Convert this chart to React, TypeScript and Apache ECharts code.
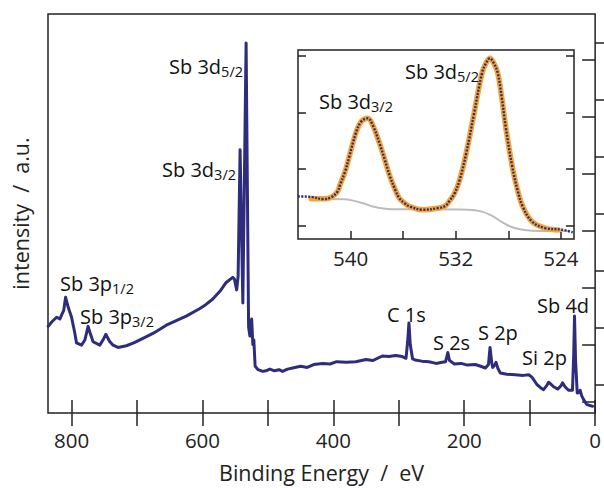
import React, { useEffect, useRef } from "react";
import * as echarts from "echarts";

// ---- survey spectrum (binding energy eV, intensity a.u.) ----
const surveyBE = [
  835.7, 830, 822.9, 817.8, 812, 809.1, 805, 800, 795, 792.4, 784.8, 779.7, 774.7, 771, 767.1,
  756.9, 752, 747.7, 742, 736.6, 729, 716.2, 705, 690.9, 675, 655.2, 640, 624.8, 604.5, 595,
  584.2, 573, 563.8, 553.8, 551.2, 547.7, 545.5, 542.5, 538.3, 533.3, 529.5, 527.5, 524.8, 523,
  521.5, 519.5, 515, 508, 503, 497, 490, 483, 477.6, 470, 462.3, 450, 440, 430, 416.6, 405, 395,
  380, 365.7, 350, 340, 325.2, 315, 305, 294.7, 289, 286.5, 284.5, 282.5, 279, 275, 265, 254, 243,
  233.8, 228.5, 225.1, 222.5, 215, 205, 195, 183, 175, 167.6, 163, 160.6, 158, 156.5, 153.5, 151.5,
  148.5, 144.8, 135, 122, 110, 101, 96, 89, 83, 78.8, 74, 71.2, 67, 63.5, 57, 52, 49.8, 46, 40.7,
  34.6, 32.8, 31.5, 30, 27.4, 24.5, 22.9, 20.5, 17.8, 12.8, 8, 4,
];
const surveyIntensity = [
  152, 160, 168, 165, 180, 203, 185, 168, 140, 123, 119, 128, 152, 138, 125,
  119, 128, 138, 126, 119, 115, 118, 123, 131, 140, 154, 162, 170, 183, 190,
  200, 214, 229, 238, 235, 216, 240, 462, 193, 649, 151, 135, 165, 120,
  128, 82, 76, 73, 74, 77, 74, 76, 73, 77, 79, 82, 80, 85, 87, 86, 90,
  89, 90, 94, 92, 100, 99, 101, 99, 96, 125, 158, 120, 95, 93, 91, 90, 87,
  89, 90, 106, 92, 86, 87, 84, 85, 82, 79, 85, 115, 88, 80, 84, 89,
  78, 70, 68, 67, 66, 67, 62, 50, 44, 41, 48, 54, 50, 46, 42, 48, 53, 46, 40,
  40, 100, 170, 95, 35, 36, 40, 30, 24, 15, 13, 12,
];

// ---- Sb 3d detail (inset) ----
const detailBE = [
  544, 543, 542.1, 541.5, 541, 540.8, 540.4, 540.1, 539.6, 539.2, 538.7, 538.3, 537.8, 537.4, 537,
  536.6, 536.3, 535.9, 535.5, 534.5, 533.3, 532.8, 532.5, 532.1, 531.7, 531.2, 530.6, 530, 529.7,
  529.4, 529.1, 528.8, 528.5, 528.2, 527.7, 527.3, 526.9, 526.2, 525.2, 523.9, 523.1,
];
const detailIntensity = [
  22.5, 22.3, 21.1, 22, 25, 28.7, 36, 43.6, 56, 62, 63.9, 60, 50.7, 42, 33,
  26, 21.7, 19, 17.2, 15.5, 16.4, 17.5, 19.9, 24, 31.3, 45.4, 66.6, 87.7, 93,
  95.6, 93, 87.7, 75, 59.5, 38.4, 26, 17.2, 9.3, 5.8, 4.9, 3.5,
];
const fitBE = [
  543, 542.1, 541.5, 541, 540.8, 540.4, 540.1, 539.6, 539.2, 538.7, 538.3, 537.8, 537.4, 537,
  536.6, 536.3, 535.9, 535.5, 534.5, 533.3, 532.8, 532.5, 532.1, 531.7, 531.2, 530.6, 530, 529.7,
  529.4, 529.1, 528.8, 528.5, 528.2, 527.7, 527.3, 526.9, 526.2, 525.2, 524.2,
];
const fitIntensity = [
  21.3, 21.3, 22, 25, 28.7, 36, 43.6, 56, 62, 63.9, 60, 50.7, 42, 33,
  26, 21.7, 19, 17.2, 15.5, 16.4, 17.5, 19.9, 24, 31.3, 45.4, 66.6, 87.7, 93,
  95.6, 93, 87.7, 75, 59.5, 38.4, 26, 17.2, 9.3, 5.8, 4.8,
];
const backgroundBE = [543, 540.5, 539.8, 539, 538.3, 537.5, 536.8, 531, 530, 529.3, 528.6, 527.8, 527, 526.2, 523.3];
const backgroundIntensity = [21.1, 21, 20.3, 18.8, 17.2, 16.1, 15.8, 15.5, 14.5, 12.5, 9.5, 6.5, 5, 4.4, 4.2];

// ---- axis ticks ----
const surveyTicks = [0, 100, 200, 300, 400, 500, 600, 700, 800];
const surveyLabels = [0, 200, 400, 600, 800];
const leftTicks = [50, 150, 250, 350, 450, 550, 650];
const rightTicks = [20, 120, 220, 320, 420, 520, 620];
const detailTicks = [540, 536, 532, 528, 524];
const detailLabels = [540, 532, 524];
const detailYTicks = [7, 37, 67, 97];

const NAVY = "#2e2d7d";
const ORANGE = "#f7a535";
const GRAY = "#bcbcbc";
const AX = "#222";
const FONT = "'Open Sans', 'Noto Sans', sans-serif";

const pair = (xs: number[], ys: number[]) => xs.map((x, i) => [x, ys[i]]);

const tick = (vals: number[], len: number) => ({
  show: true,
  inside: true,
  length: len,
  customValues: vals,
  lineStyle: { color: AX, width: 1.5 },
});

const rich = {
  m: { fontSize: 20, fontFamily: FONT, fill: "#111", lineHeight: 26 },
  s: { fontSize: 14.5, fontFamily: FONT, fill: "#111", lineHeight: 14, verticalAlign: "bottom" },
};

const label = (x: number, y: number, main: string, sub: string, align: string) => ({
  type: "text",
  x,
  y,
  z: 100,
  style: {
    text: sub ? `{m|${main}}{s|${sub}}` : `{m|${main}}`,
    rich,
    align,
    verticalAlign: "middle",
    fill: "#111",
    fontFamily: FONT,
  },
});

export default function App() {
  const ref = useRef<HTMLDivElement>(null);
  useEffect(() => {
    if (!ref.current) return;
    const chart = echarts.init(ref.current, undefined, { renderer: "svg" });
    chart.setOption({
      animation: false,
      backgroundColor: "#fff",
      grid: [
        { left: 48, top: 14, width: 549, height: 403, show: true, borderColor: AX, borderWidth: 1.5, backgroundColor: "transparent" },
        { left: 298, top: 50, width: 276, height: 189, show: true, borderColor: AX, borderWidth: 1.5, backgroundColor: "#fff" },
      ],
      xAxis: [
        {
          gridIndex: 0, type: "value", min: 0, max: 836, inverse: true, position: "bottom",
          axisLine: { show: false }, splitLine: { show: false },
          axisTick: tick(surveyTicks, 13),
          axisLabel: { customValues: surveyLabels, fontSize: 20.5, margin: 16, color: AX, fontFamily: FONT },
          name: "Binding Energy  /  eV", nameLocation: "middle", nameGap: 48,
          nameTextStyle: { fontSize: 21.5, color: AX, fontFamily: FONT },
        },
        {
          gridIndex: 0, type: "value", min: 0, max: 836, inverse: true, position: "top",
          axisLine: { show: false }, splitLine: { show: false },
          axisTick: tick(surveyTicks, 13), axisLabel: { show: false },
        },
        {
          gridIndex: 1, type: "value", min: 523, max: 544, inverse: true, position: "bottom",
          axisLine: { show: false }, splitLine: { show: false },
          axisTick: tick(detailTicks, 8),
          axisLabel: { customValues: detailLabels, fontSize: 20.5, margin: 8, color: AX, fontFamily: FONT },
        },
      ],
      yAxis: [
        {
          gridIndex: 0, type: "value", min: 0, max: 700, position: "left",
          axisLine: { show: false }, splitLine: { show: false },
          axisTick: tick(leftTicks, 13), axisLabel: { show: false },
          name: "intensity  /  a.u.", nameLocation: "middle", nameGap: 17,
          nameTextStyle: { fontSize: 21.5, color: AX, fontFamily: FONT },
        },
        {
          gridIndex: 0, type: "value", min: 0, max: 700, position: "right",
          axisLine: { show: false }, splitLine: { show: false },
          axisTick: tick(rightTicks, 13), axisLabel: { show: false },
        },
        {
          gridIndex: 1, type: "value", min: 0, max: 100, position: "left",
          axisLine: { show: false }, splitLine: { show: false },
          axisTick: tick(detailYTicks, 8), axisLabel: { show: false },
        },
        {
          gridIndex: 1, type: "value", min: 0, max: 100, position: "right",
          axisLine: { show: false }, splitLine: { show: false },
          axisTick: tick(detailYTicks, 8), axisLabel: { show: false },
        },
      ],
      series: [
        {
          type: "line", xAxisIndex: 0, yAxisIndex: 0, data: pair(surveyBE, surveyIntensity),
          showSymbol: false, lineStyle: { color: NAVY, width: 3, join: "round", cap: "round" },
        },
        {
          type: "line", xAxisIndex: 2, yAxisIndex: 2, data: pair(backgroundBE, backgroundIntensity),
          showSymbol: false, smooth: 0.4, lineStyle: { color: GRAY, width: 2 }, z: 3,
        },
        {
          type: "line", xAxisIndex: 2, yAxisIndex: 2, data: pair(fitBE, fitIntensity),
          showSymbol: false, smooth: 0.4, lineStyle: { color: ORANGE, width: 5.5, cap: "round" }, z: 4,
        },
        {
          type: "line", xAxisIndex: 2, yAxisIndex: 2, data: pair(detailBE, detailIntensity),
          showSymbol: false, smooth: 0.4, lineStyle: { color: NAVY, width: 2.4, type: [2, 1.4] }, z: 5,
        },
      ],
      graphic: [
        label(243, 66, "Sb 3d", "5/2", "right"),
        label(236, 169, "Sb 3d", "3/2", "right"),
        label(60, 283, "Sb 3p", "1/2", "left"),
        label(80, 316, "Sb 3p", "3/2", "left"),
        label(387, 314, "C 1s", "", "left"),
        label(433, 342, "S 2s", "", "left"),
        label(478, 332, "S 2p", "", "left"),
        label(522, 357, "Si 2p", "", "left"),
        label(537, 305, "Sb 4d", "", "left"),
        label(319, 101, "Sb 3d", "3/2", "left"),
        label(405, 71, "Sb 3d", "5/2", "left"),
      ],
    });
    return () => chart.dispose();
  }, []);
  return <div ref={ref} style={{ width: 604, height: 488, position: "absolute", left: 0, top: 0 }} />;
}
